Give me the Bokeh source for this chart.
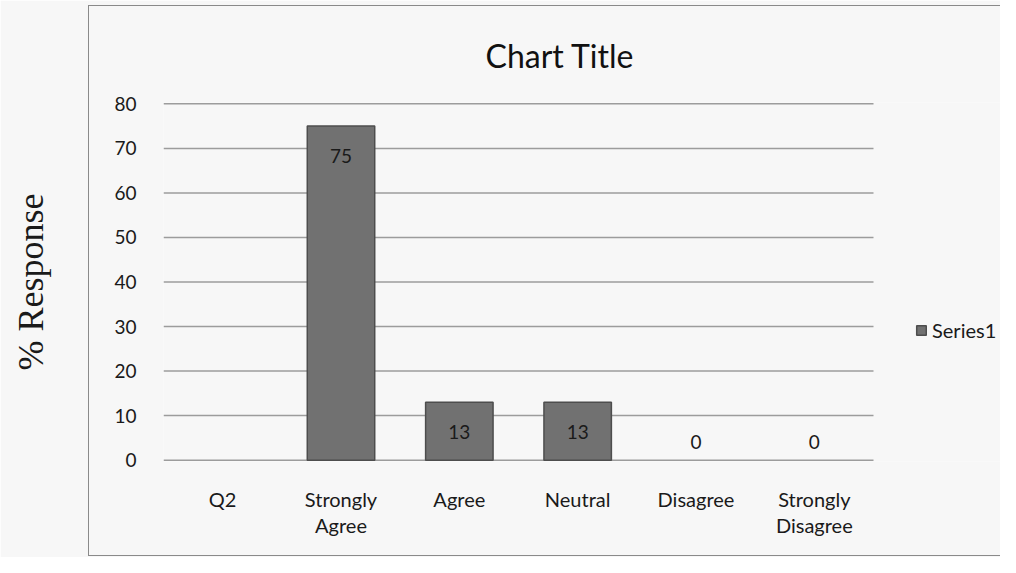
from bokeh.plotting import figure
from bokeh.models import (ColumnDataSource, Range1d, FixedTicker,
                          Legend, LegendItem, CDSView, BooleanFilter, InlineStyleSheet)
from bokeh.embed import file_html
from bokeh.resources import INLINE
from bokeh.core.properties import value

# ---- data ----
categories = ["Q2", "Strongly\nAgree", "Agree", "Neutral", "Disagree", "Strongly\nDisagree"]
responses = [None, 75, 13, 13, 0, 0]
tick_values = [0, 10, 20, 30, 40, 50, 60, 70, 80]
series_name = "Series1"
chart_title = "Chart Title"
y_title = "% Response"

# ---- layout (pixels) ----
W, H = 1000, 557
FRAME_LEFT, PLOT_RIGHT = 163, 873          # plot area of the bars; frame runs on to W
n_cat = len(categories)
x_end = n_cat * (W - FRAME_LEFT) / (PLOT_RIGHT - FRAME_LEFT)

centers = [i + 0.5 for i in range(n_cat)]
xs = [c for c, v in zip(centers, responses) if v is not None]
vals = [v for v in responses if v is not None]
label_offsets = [30 if v > 0 else -18 for v in vals]
src = ColumnDataSource(dict(x=xs, val=vals, txt=[str(v) for v in vals], off=label_offsets))
grid_src = ColumnDataSource(dict(y=tick_values, x0=[0] * len(tick_values),
                                 x1=[n_cat] * len(tick_values)))

# chart border drawn as a CSS pseudo element over the canvas
border_css = InlineStyleSheet(css="""
:host::after {
  content: ""; position: absolute; left: 88px; top: 5px; right: 0px; bottom: 1px;
  border-left: 1px solid #8a8a8a; border-top: 1px solid #8a8a8a; border-bottom: 1px solid #8a8a8a;
  pointer-events: none;
}
""")

p = figure(x_range=Range1d(0, x_end), y_range=Range1d(-0.3, 80.3),
           width=W, height=H, output_backend="svg", toolbar_location=None,
           min_border_left=FRAME_LEFT, min_border_right=0, min_border_top=102, min_border_bottom=96,
           title=chart_title, stylesheets=[border_css])

p.background_fill_color = "#f7f7f7"
p.border_fill_color = "#f7f7f7"
p.outline_line_color = None
p.xgrid.grid_line_color = None
p.ygrid.grid_line_color = None

p.title.align = "left"
p.title.offset = 322
p.title.standoff = 56
p.title.text_font = "Lato"
p.title.text_font_size = "32px"
p.title.text_font_style = "normal"
p.title.text_color = "#111111"

# horizontal gridlines over the category area only
p.segment(x0="x0", x1="x1", y0="y", y1="y", source=grid_src,
          line_color="#9c9c9c", line_width=1.5)

view = CDSView(filter=BooleanFilter([v > 0 for v in vals]))
bars = p.vbar(x="x", top="val", width=0.57, source=src, view=view,
              fill_color="#717171", line_color="#4d4d4d", line_width=1.5)

p.text(x="x", y="val", text="txt", y_offset="off", source=src,
       text_align="center", text_baseline="middle",
       text_font=value("Lato"), text_font_size="19px", text_color="#1a1a1a")

# axes
p.yaxis.ticker = FixedTicker(ticks=tick_values)
p.yaxis.axis_line_color = None
p.yaxis.major_tick_line_color = None
p.yaxis.minor_tick_line_color = None
p.yaxis.major_label_standoff = 21
p.yaxis.major_label_text_font = "Lato"
p.yaxis.major_label_text_font_size = "19px"
p.yaxis.major_label_text_color = "#1a1a1a"
p.yaxis.axis_label = y_title
p.yaxis.axis_label_text_font = "Liberation Serif"
p.yaxis.axis_label_text_font_size = "36px"
p.yaxis.axis_label_text_font_style = "normal"
p.yaxis.axis_label_text_color = "#1a1a1a"
p.yaxis.axis_label_standoff = 60

p.xaxis.ticker = FixedTicker(ticks=centers)
p.xaxis.major_label_overrides = {c: lab for c, lab in zip(centers, categories)}
p.xaxis.axis_line_color = None
p.xaxis.major_tick_line_color = None
p.xaxis.minor_tick_line_color = None
p.xaxis.major_label_standoff = 19
p.xaxis.major_label_text_font = "Lato"
p.xaxis.major_label_text_font_size = "20px"
p.xaxis.major_label_text_color = "#1a1a1a"
p.xaxis.major_label_text_line_height = 1.12

legend = Legend(items=[LegendItem(label=series_name, renderers=[bars])],
                location=(915 - FRAME_LEFT, 119), padding=0, margin=0, border_line_color=None,
                background_fill_alpha=0, glyph_width=12, glyph_height=12, label_standoff=5,
                label_text_font="Lato", label_text_font_size="20px", label_text_color="#1a1a1a")
p.add_layout(legend)

open("out.html", "w").write(file_html(p, INLINE))
